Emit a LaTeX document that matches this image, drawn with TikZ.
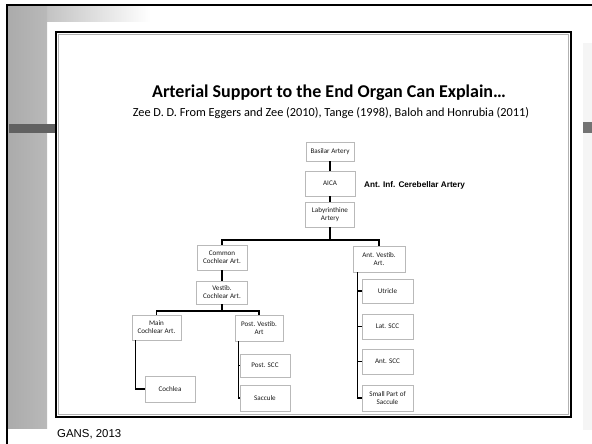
\documentclass[tikz,border=0pt]{standalone}
\usepackage{fontspec}
\newfontfamily\carlito{Carlito}
\newfontfamily\arialf{Liberation Sans}
\usetikzlibrary{shadows}
\begin{document}
\begin{tikzpicture}[x=1pt,y=-1pt,
  box/.style={draw=gray!55, fill=white, line width=0.6pt, align=center, inner sep=0.5pt,
    font=\carlito\fontsize{7.1}{8}\selectfont, text=black!90,
    drop shadow={shadow xshift=0.7pt, shadow yshift=-0.7pt, opacity=0.45, fill=gray}},
  conn/.style={draw=black, line width=1.1pt}]
\useasboundingbox (0,0) rectangle (592,444);
\fill[white] (0,0) rectangle (592,444);
% background decoration
\shade[left color=gray!65, right color=white] (8,6) rectangle (150,22);
\shade[left color=gray!66, right color=gray!55] (8,6) rectangle (47,428);
\fill[gray!8] (583,43) rectangle (592,430);
\fill[black!62] (9,124) rectangle (56,133);
\fill[black!55] (583,122) rectangle (592,133);
\draw[line width=2pt] (7,444) -- (7,5) -- (592,5);
% slide frame
\draw[line width=2.4pt] (56,32) rectangle (571,417);
\draw[gray!60, line width=0.8pt] (58.2,34.2) rectangle (568.8,414.8);
% titles
\node[font=\carlito\bfseries\fontsize{18}{21}\selectfont, anchor=base] (title) at (329,98) {Arterial Support to the End Organ Can Explain…};
\node[font=\carlito\fontsize{12.3}{14}\selectfont, anchor=base] (sub) at (331,116) {Zee D. D. From Eggers and Zee (2010), Tange (1998), Baloh and Honrubia (2011)};
% boxes
\node[box, minimum width=48, minimum height=19] (basilar) at (330,151.5) {Basilar Artery};
\node[box, minimum width=50, minimum height=25] (aica) at (330,183.5) {AICA};
\node[font=\arialf\bfseries\fontsize{8.2}{9}\selectfont, anchor=west, inner sep=0] (aicalab) at (364,185) {Ant. Inf. Cerebellar Artery};
\node[box, minimum width=49, minimum height=25] (laby) at (330,214.5) {Labyrinthine\\Artery};
\node[box, minimum width=50, minimum height=25] (common) at (222,257.5) {Common\\Cochlear Art.};
\node[box, minimum width=52, minimum height=26] (antvest) at (379,259) {Ant. Vestib.\\Art.};
\node[box, minimum width=51, minimum height=23] (vestcoch) at (222,292.5) {Vestib.\\Cochlear Art.};
\node[box, minimum width=49, minimum height=25] (maincoch) at (156.5,327.5) {Main\\Cochlear Art.};
\node[box, minimum width=48, minimum height=26] (postvest) at (259,328) {Post. Vestib.\\Art};
\node[box, minimum width=50, minimum height=26] (cochlea) at (170,389) {Cochlea};
\node[box, minimum width=50, minimum height=23] (postscc) at (265,365.5) {Post. SCC};
\node[box, minimum width=50, minimum height=26] (saccule) at (265,398) {Saccule};
\node[box, minimum width=51, minimum height=24] (utricle) at (387.5,291) {Utricle};
\node[box, minimum width=51, minimum height=25] (latscc) at (387.5,326.5) {Lat. SCC};
\node[box, minimum width=51, minimum height=25] (antscc) at (387.5,361.5) {Ant. SCC};
\node[box, minimum width=51, minimum height=26] (smallpart) at (387.5,398) {Small Part of\\Saccule};
% connectors
\coordinate (b1) at (330,240);
\coordinate (b2) at (222,311);
\draw[conn] (basilar.south) -- (aica.north);
\draw[conn] (aica.south) -- (laby.north);
\draw[conn] (laby.south) -- (b1) -| (common.north);
\draw[conn] (b1) -| (antvest.north);
\draw[conn] (common.south) -- (vestcoch.north);
\draw[conn] (vestcoch.south) -- (b2) -| (maincoch.north);
\draw[conn] (b2) -| (postvest.north);
\draw[conn] ([xshift=4pt]maincoch.south west) |- (cochlea.west);
\draw[conn] ([xshift=4pt]postvest.south west) |- (saccule.west);
\draw[conn] ([xshift=4pt]postvest.south west) |- (postscc.west);
\draw[conn] ([xshift=5pt]antvest.south west) |- (smallpart.west);
\draw[conn] ([xshift=5pt]antvest.south west) |- (utricle.west);
\draw[conn] ([xshift=5pt]antvest.south west) |- (latscc.west);
\draw[conn] ([xshift=5pt]antvest.south west) |- (antscc.west);
% footer
\node[font=\arialf\fontsize{11.4}{13}\selectfont, anchor=base west, inner sep=0] (gans) at (57,437) {GANS, 2013};
\end{tikzpicture}
\end{document}
